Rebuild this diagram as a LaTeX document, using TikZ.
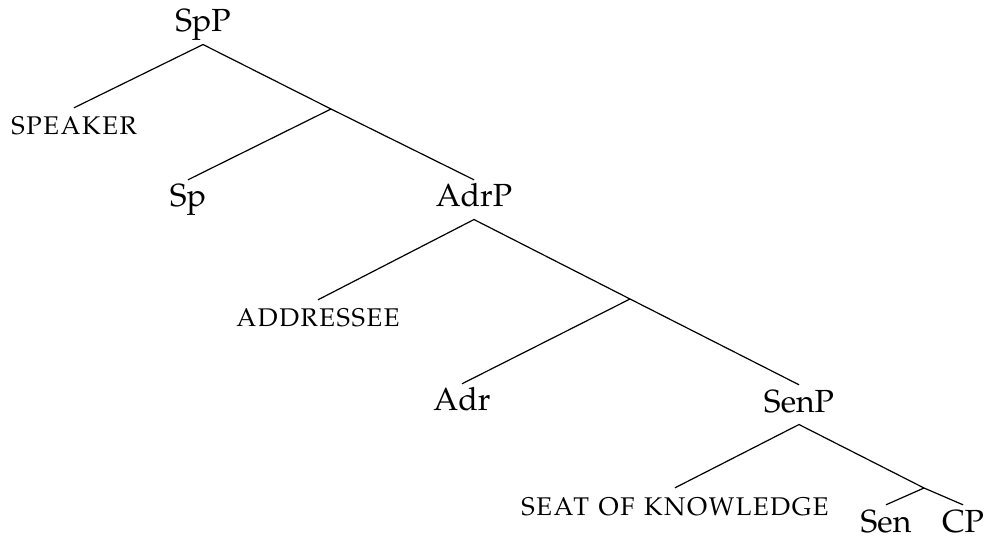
\documentclass[tikz,border=0pt]{standalone}
\usepackage[T1]{fontenc}
\usepackage{mathpazo}
\begin{document}
\begin{tikzpicture}[x=0.375pt,y=-0.375pt,
  lab/.style={anchor=base,inner sep=2pt,text height=8pt,text depth=2.5pt,font=\fontsize{12}{14}\selectfont},
  sclab/.style={lab,font=\fontsize{12}{14}\selectfont\scshape},
  edge/.style={line width=0.45pt}]
\useasboundingbox (0,0) rectangle (987,537);
\node[lab] (SpP) at (203,32) {SpP};
\node[sclab] (speaker) at (74,135) {speaker};
\coordinate (bar1) at (331,109);
\node[lab] (Sp) at (188,207) {Sp};
\node[lab] (AdrP) at (474,207) {AdrP};
\node[sclab] (addressee) at (318,327) {addressee};
\coordinate (bar2) at (630,299);
\node[lab] (Adr) at (462,411) {Adr};
\node[lab] (SenP) at (799,412) {SenP};
\node[sclab] (seat) at (675,515) {seat of knowledge};
\coordinate (bar3) at (924,488);
\node[lab] (Sen) at (886,532) {Sen};
\node[lab] (CP) at (963,532) {CP};
\draw[edge] (speaker.north) -- (SpP.south) -- (bar1) -- (AdrP.north);
\draw[edge] (bar1) -- (Sp.north);
\draw[edge] (addressee.north) -- (AdrP.south) -- (bar2) -- (SenP.north);
\draw[edge] (bar2) -- (Adr.north);
\draw[edge] (seat.north) -- (SenP.south) -- (bar3) -- (CP.north);
\draw[edge] (bar3) -- (Sen.north);
\end{tikzpicture}
\end{document}
